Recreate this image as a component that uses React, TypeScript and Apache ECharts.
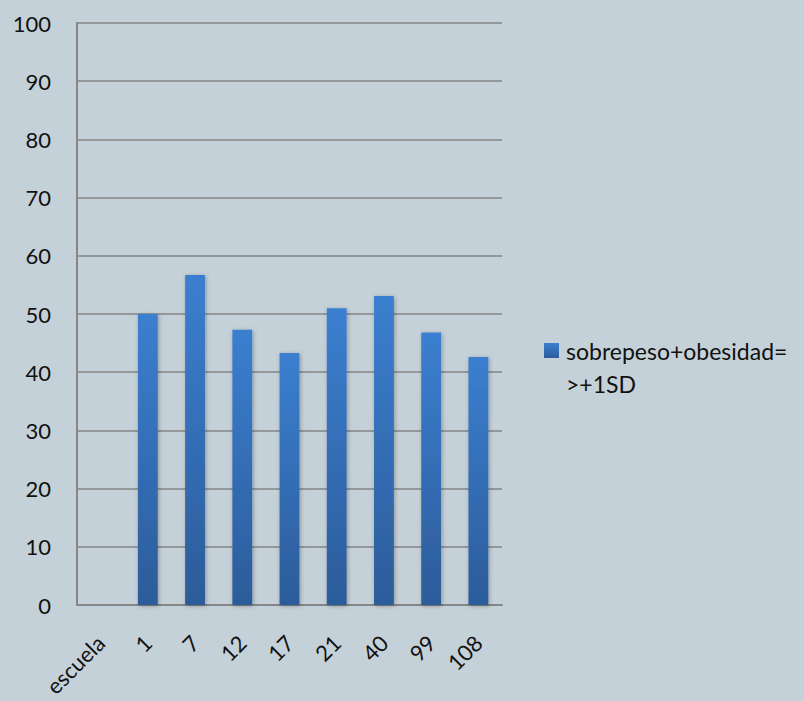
import React, { useEffect, useRef } from "react";
import * as echarts from "echarts";

const categories = ["escuela", "1", "7", "12", "17", "21", "40", "99", "108"];
const values: (number | null)[] = [null, 50.0, 56.7, 47.3, 43.3, 51.0, 53.1, 46.8, 42.6];
const seriesName = "sobrepeso+obesidad=>+1SD";

export default function App() {
  const ref = useRef<HTMLDivElement>(null);
  useEffect(() => {
    if (!ref.current) return;
    const chart = echarts.init(ref.current, null, { renderer: "svg" });
    const font = "Lato, 'Open Sans', sans-serif";
    chart.setOption({
      animation: false,
      backgroundColor: "#c5d1d8",
      grid: { left: 77, right: 302, top: 23, bottom: 96, containLabel: false },
      legend: {
        show: true,
        left: 544,
        top: 301,
        padding: 0,
        orient: "vertical",
        icon: "rect",
        itemWidth: 15,
        itemHeight: 15,
        itemGap: 6,
        formatter: () => " \nsobrepeso+obesidad=\n>+1SD",
        textStyle: { fontFamily: font, fontSize: 23, color: "#111", lineHeight: 33, padding: [0, 0, 0, 2] },
        data: [seriesName],
      },
      xAxis: {
        type: "category",
        data: categories,
        axisLine: { lineStyle: { color: "#868686", width: 2 } },
        axisTick: { show: false },
        axisLabel: { rotate: 45, fontFamily: font, fontSize: 22, color: "#111", margin: 34, interval: 0 },
      },
      yAxis: {
        type: "value",
        min: 0,
        max: 100,
        interval: 10,
        axisLine: { show: true, lineStyle: { color: "#868686", width: 2 } },
        axisTick: { show: false },
        splitLine: { show: true, lineStyle: { color: "#848484", width: 1.5 } },
        axisLabel: { fontFamily: font, fontSize: 22, color: "#111", margin: 26 },
      },
      series: [
        {
          name: seriesName,
          type: "bar",
          data: values,
          barWidth: "42%",
          itemStyle: {
            color: new echarts.graphic.LinearGradient(0, 0, 0, 1, [
              { offset: 0, color: "#3b7fd0" },
              { offset: 1, color: "#2c5c9a" },
            ]),
            shadowColor: "rgba(0,0,0,0.3)",
            shadowBlur: 4,
            shadowOffsetX: 1,
            shadowOffsetY: 1,
          },
        },
      ],
    });
    return () => chart.dispose();
  }, []);
  return <div ref={ref} style={{ width: 804, height: 701, position: "absolute", left: 0, top: 0 }} />;
}
